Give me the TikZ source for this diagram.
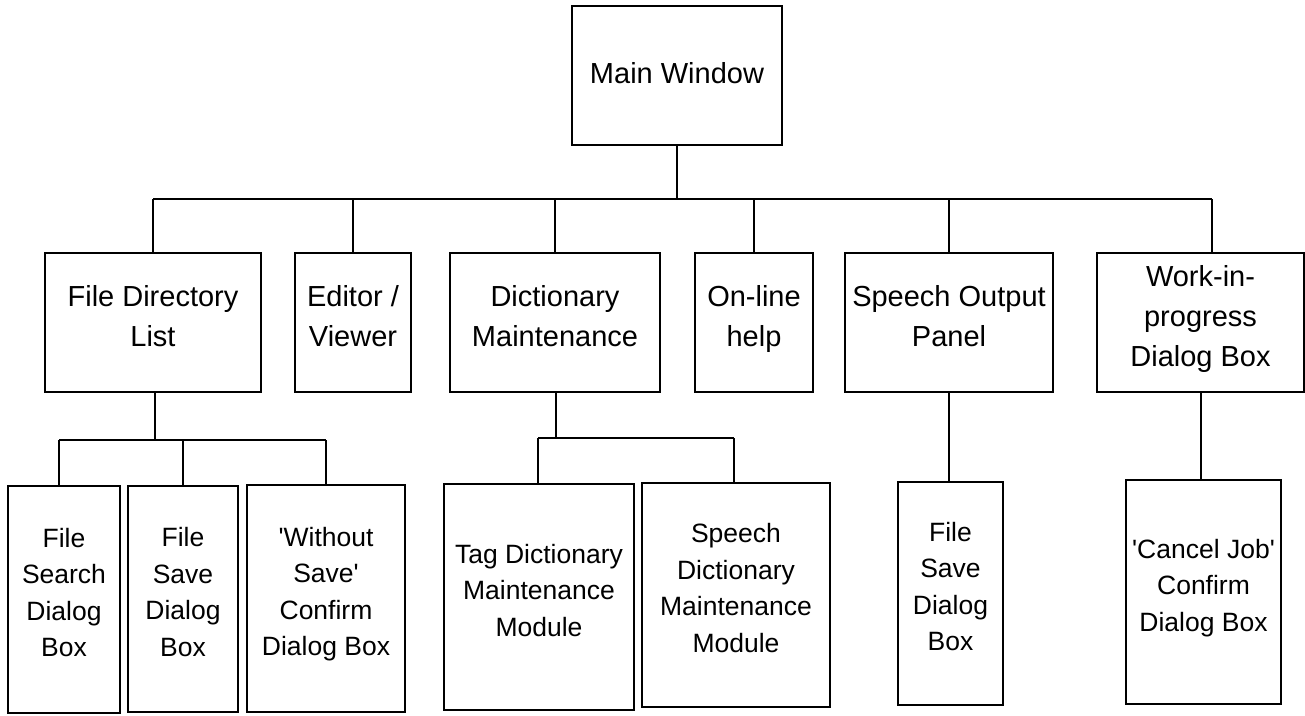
\documentclass[tikz,border=0pt]{standalone}
\usepackage{fontspec}
\setmainfont{Liberation Sans}[Ligatures=TeXOff]
\begin{document}
\begin{tikzpicture}[x=1pt,y=-1pt,
  box/.style={draw, line width=1.2pt, align=center, inner sep=0pt, text depth=14pt},
  upper/.style={box, font=\fontsize{29}{40}\selectfont},
  lower/.style={box, font=\fontsize{26.5}{36.5}\selectfont},
  link/.style={line width=1.2pt}]
\useasboundingbox (0,0) rectangle (1305,715);

% top level
\node[upper, text depth=5pt, minimum width=210pt, minimum height=139pt] (main) at (677,75.5) {Main Window};

% second level
\node[upper, minimum width=216pt, minimum height=139pt] (fdl)  at (153,322.5)    {File Directory\\List};
\node[upper, minimum width=116pt, minimum height=139pt] (ed)   at (353,322.5)    {Editor /\\Viewer};
\node[upper, minimum width=210pt, minimum height=139pt] (dict) at (555,322.5)    {Dictionary\\Maintenance};
\node[upper, minimum width=118pt, minimum height=139pt] (help) at (754,322.5)    {On-line\\help};
\node[upper, minimum width=208pt, minimum height=139pt] (sop)  at (949,322.5)    {Speech Output\\Panel};
\node[upper, minimum width=207pt, minimum height=139pt] (wip)  at (1200.5,322.5) {Work-in-\\progress\\Dialog Box};

% third level
\node[lower, minimum width=112pt, minimum height=227pt] (fsearch) at (64,599.5)    {File\\Search\\Dialog\\Box};
\node[lower, minimum width=110pt, minimum height=226pt] (fsave)   at (183,599)     {File\\Save\\Dialog\\Box};
\node[lower, minimum width=158pt, minimum height=227pt] (wsave)   at (326,598.5)   {'Without\\Save'\\Confirm\\Dialog Box};
\node[lower, minimum width=190pt, minimum height=226pt] (tag)     at (539,597)     {Tag Dictionary\\Maintenance\\Module};
\node[lower, minimum width=188pt, minimum height=224pt] (sdm)     at (736,595)     {Speech\\Dictionary\\Maintenance\\Module};
\node[lower, minimum width=105pt, minimum height=223pt] (fsave2)  at (950.5,593.5) {File\\Save\\Dialog\\Box};
\node[lower, minimum width=155pt, minimum height=224pt] (cjob)    at (1203.5,592)  {'Cancel Job'\\Confirm\\Dialog Box};

% main bus
\coordinate (busL) at (153,199);
\coordinate (busR) at (1212,199);
\draw[link] (main.south) -- (main.south |- busL);
\draw[link] (busL) -- (busR);
\draw[link] (busL) -- (fdl.north);
\draw[link] (ed.north) -- (ed.north |- busL);
\draw[link] (dict.north) -- (dict.north |- busL);
\draw[link] (help.north) -- (help.north |- busL);
\draw[link] (sop.north) -- (sop.north |- busL);
\draw[link] (busR) -- (busR |- wip.north);

% file directory branch
\coordinate (fdlJ) at (155,440);
\draw[link] (fdlJ |- fdl.south) -- (fdlJ);
\coordinate (fdlL) at (59,440);
\coordinate (fdlR) at (326,440);
\draw[link] (fdlL) -- (fdlR);
\draw[link] (fdlL) -- (fdlL |- fsearch.north);
\draw[link] (fsave.north) -- (fsave.north |- fdlL);
\draw[link] (fdlR) -- (wsave.north);

% dictionary branch
\coordinate (dJ) at (556,438);
\draw[link] (dJ |- dict.south) -- (dJ);
\coordinate (dL) at (538,438);
\coordinate (dR) at (734,438);
\draw[link] (dL) -- (dR);
\draw[link] (dL) -- (dL |- tag.north);
\draw[link] (dR) -- (dR |- sdm.north);

% speech output branch
\coordinate (sJ) at (949,0);
\draw[link] (sJ |- sop.south) -- (sJ |- fsave2.north);

% work-in-progress branch
\coordinate (wJ) at (1201,0);
\draw[link] (wJ |- wip.south) -- (wJ |- cjob.north);
\end{tikzpicture}
\end{document}
